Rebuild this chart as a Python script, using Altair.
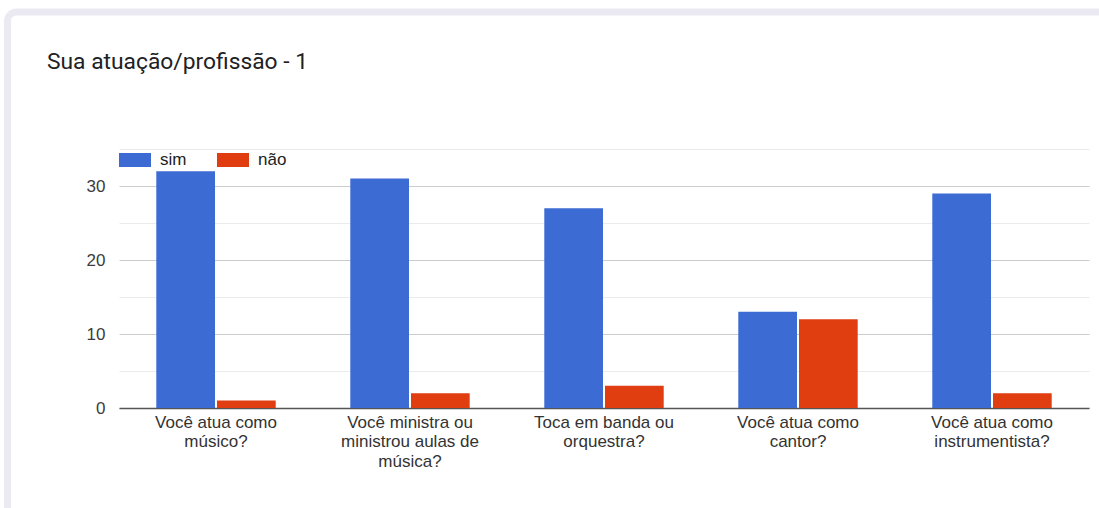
import altair as alt
import pandas as pd

# Survey answers per question
questions = [
    "Você atua como\nmúsico?",
    "Você ministra ou\nministrou aulas de\nmúsica?",
    "Toca em banda ou\norquestra?",
    "Você atua como\ncantor?",
    "Você atua como\ninstrumentista?",
]
sim = [32, 31, 27, 13, 29]
nao = [1, 2, 3, 12, 2]
series = ["sim", "não"]
colors = ["#3b6bd3", "#e03d10"]
y_ticks = [0, 5, 10, 15, 20, 25, 30, 35]
title_text = "Sua atuação/profissão - 1"

rows = []
for q, s, n in zip(questions, sim, nao):
    rows.append({"pergunta": q, "resposta": series[0], "total": s})
    rows.append({"pergunta": q, "resposta": series[1], "total": n})
df = pd.DataFrame(rows)

W, H = 970, 259
LEFT, TOP = 119, 149

label_font = "Liberation Sans"

# Card outline around the chart
card = alt.Chart(pd.DataFrame({"k": [0]})).mark_rect(
    filled=False, stroke="#ebeaf3", strokeWidth=7, cornerRadius=9
).encode(
    x=alt.value(7.5 - LEFT), x2=alt.value(1130 - LEFT),
    y=alt.value(12 - TOP), y2=alt.value(540 - TOP),
)

title = alt.Chart(pd.DataFrame({"t": [title_text]})).mark_text(
    align="left", baseline="alphabetic", font="Roboto", fontSize=22.8, color="#202124"
).encode(
    x=alt.value(47 - LEFT), y=alt.value(69 - TOP), text="t:N"
)

bars = alt.Chart(df).mark_bar().encode(
    x=alt.X(
        "pergunta:N", sort=questions,
        scale=alt.Scale(paddingInner=0.3845, paddingOuter=0.19225),
        axis=alt.Axis(
            title=None, labelAngle=0, labelExpr="split(datum.label, '\\n')",
            labelFont=label_font, labelFontSize=17, labelColor="#333333",
            labelLineHeight=19.5, labelPadding=6, labelLimit=0,
            ticks=False, domainColor="#555555", domainWidth=1.5, grid=False,
        ),
    ),
    xOffset=alt.XOffset("resposta:N", sort=series, scale=alt.Scale(paddingInner=0.033)),
    y=alt.Y(
        "total:Q", scale=alt.Scale(domain=[0, 35], nice=False),
        axis=alt.Axis(
            title=None, values=y_ticks,
            labelExpr="datum.value % 10 === 0 ? datum.label : ''",
            labelFont=label_font, labelFontSize=17, labelColor="#3c3c3c",
            labelPadding=14, domain=False, ticks=False,
            gridColor={"condition": {"test": "datum.value % 10 === 0", "value": "#cccccc"},
                       "value": "#ebebeb"},
            gridWidth=1,
        ),
    ),
    color=alt.Color(
        "resposta:N", sort=series,
        scale=alt.Scale(domain=series, range=colors),
        legend=alt.Legend(
            title=None, orient="none", legendX=0, legendY=-5, direction="horizontal",
            symbolType="M-1,-0.4375H1V0.4375H-1Z", symbolSize=1024, symbolStrokeWidth=0,
            symbolOpacity=1, labelFont=label_font, labelFontSize=17, labelColor="#222222",
            labelOffset=9, columnPadding=30, padding=0,
        ),
    ),
)

chart = alt.layer(card, title, bars).properties(
    width=W, height=H,
    autosize=alt.AutoSizeParams(type="none"),
    padding={"left": LEFT, "top": TOP, "right": 10, "bottom": 100},
    background="white",
).configure_view(stroke=None)

chart.save("out.html", embed_options={"renderer": "svg", "actions": False})
